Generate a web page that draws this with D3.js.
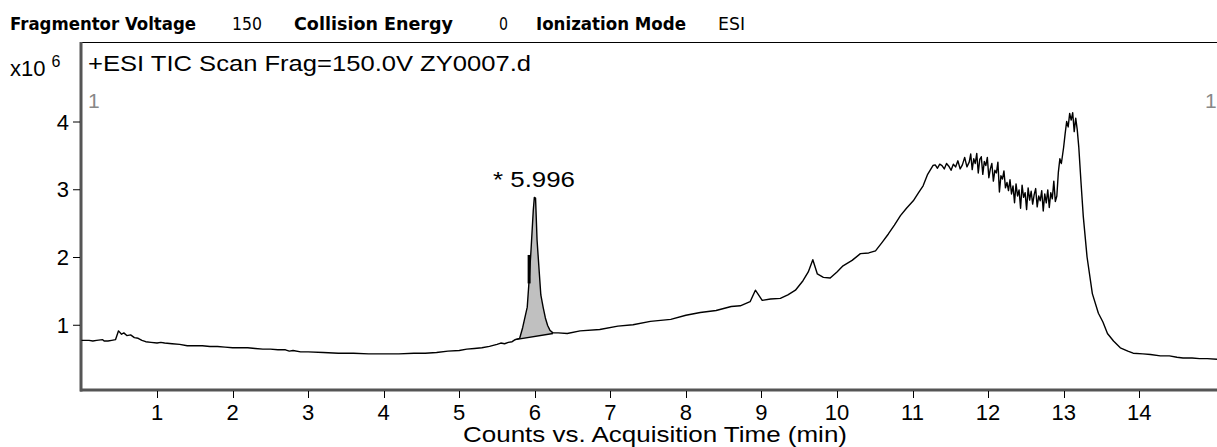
<!DOCTYPE html>
<html>
<head>
<meta charset="utf-8">
<script src="https://d3js.org/d3.v7.min.js"></script>
<style>
  body { margin: 0; background: #fff; }
  text { font-family: "Liberation Sans", Arial, sans-serif; }
  .hdr { font-family: "DejaVu Sans", Tahoma, sans-serif; font-size: 18px; }
</style>
</head>
<body>
<div id="chart"></div>
<script>
// TIC chromatogram, counts in units of 10^6
var width = 1217,
    height = 447;

// header info
var headerLabels = ["Fragmentor Voltage", "Collision Energy", "Ionization Mode"];
var headerValues = ["150", "0", "ESI"];

// acquisition time (min)
var times = [0.00, 0.10, 0.15, 0.20, 0.28, 0.30, 0.35, 0.40, 0.45, 0.49, 0.53, 0.56, 0.60, 0.65, 0.70, 0.75, 0.80, 0.85,
  0.92, 1.00, 1.05, 1.10, 1.20, 1.30, 1.40, 1.50, 1.60, 1.70, 1.80, 1.90, 2.00, 2.10, 2.20, 2.30, 2.40, 2.50, 2.60,
  2.70, 2.75, 2.80, 2.90, 3.00, 3.20, 3.40, 3.60, 3.80, 4.00, 4.20, 4.40, 4.55, 4.70, 4.85, 5.00, 5.10, 5.20, 5.30,
  5.40, 5.50, 5.55, 5.60, 5.65, 5.70, 5.74, 5.80,
  5.84, 5.90, 5.92, 5.95, 5.98, 5.994, 6.01, 6.03, 6.06, 6.08, 6.11, 6.14, 6.17, 6.20, 6.24,
  6.31, 6.43, 6.60, 6.86, 7.10, 7.30, 7.53, 7.80, 8.00, 8.19, 8.40, 8.60, 8.72, 8.85, 8.92, 9.01, 9.12, 9.25, 9.35,
  9.45, 9.55, 9.62, 9.68, 9.74, 9.82, 9.91, 10.00, 10.08, 10.20, 10.31, 10.42, 10.51, 10.60, 10.68, 10.76, 10.84,
  10.92, 11.01, 11.08, 11.14, 11.20, 11.27,
  11.30, 11.33, 11.36, 11.39, 11.42, 11.45, 11.48, 11.51, 11.54, 11.57, 11.60, 11.63, 11.66, 11.69, 11.72, 11.75,
  11.77, 11.79, 11.81, 11.83, 11.85, 11.87, 11.89, 11.91, 11.93, 11.95, 11.97, 11.99, 12.01, 12.03, 12.05, 12.07,
  12.09, 12.11, 12.13, 12.15, 12.17, 12.19, 12.21, 12.23, 12.25, 12.27, 12.29, 12.31, 12.33, 12.35, 12.37, 12.39,
  12.41, 12.43, 12.45, 12.47, 12.49, 12.51, 12.53, 12.55, 12.57, 12.59, 12.61, 12.63, 12.65, 12.67, 12.69, 12.71,
  12.73, 12.75, 12.77, 12.79, 12.81, 12.83, 12.85, 12.87, 12.89, 12.91, 12.93, 12.95, 12.97, 13.00, 13.02, 13.04,
  13.06, 13.08, 13.10, 13.12, 13.14, 13.16, 13.18, 13.20, 13.23, 13.26, 13.31, 13.38, 13.46, 13.52, 13.58, 13.66,
  13.75, 13.85, 13.92, 14.05, 14.15, 14.28, 14.40, 14.50, 14.58, 14.70, 14.80, 14.90, 15.03];

// counts (x10^6)
var counts = [0.77, 0.77, 0.76, 0.77, 0.78, 0.76, 0.76, 0.77, 0.78, 0.91, 0.86, 0.88, 0.84, 0.85, 0.81, 0.80, 0.77, 0.75,
  0.74, 0.73, 0.74, 0.73, 0.72, 0.71, 0.69, 0.69, 0.69, 0.68, 0.68, 0.67, 0.66, 0.66, 0.66, 0.65, 0.64, 0.64, 0.63,
  0.63, 0.61, 0.62, 0.60, 0.60, 0.59, 0.58, 0.58, 0.57, 0.57, 0.57, 0.58, 0.58, 0.59, 0.61, 0.62, 0.64, 0.65, 0.66,
  0.68, 0.71, 0.73, 0.72, 0.74, 0.75, 0.78, 0.80,
  0.96, 1.26, 1.58, 2.10, 2.69, 2.88, 2.87, 2.25, 1.76, 1.44, 1.26, 1.10, 0.99, 0.92, 0.88,
  0.88, 0.87, 0.91, 0.93, 0.98, 1.00, 1.05, 1.08, 1.14, 1.18, 1.21, 1.27, 1.28, 1.34, 1.51, 1.36, 1.38, 1.39, 1.44,
  1.51, 1.65, 1.78, 1.96, 1.75, 1.70, 1.69, 1.78, 1.87, 1.95, 2.05, 2.06, 2.09, 2.22, 2.34, 2.47, 2.61,
  2.72, 2.83, 2.95, 3.05, 3.22, 3.35,
  3.36, 3.31, 3.37, 3.35, 3.30, 3.38, 3.34, 3.28, 3.37, 3.33, 3.42, 3.30, 3.36, 3.47, 3.33, 3.40,
  3.52, 3.29, 3.45, 3.38, 3.53, 3.24, 3.44, 3.48, 3.22, 3.41, 3.35, 3.47, 3.17, 3.30, 3.38, 3.12,
  3.28, 3.24, 3.40, 2.96, 3.20, 3.15, 3.27, 3.02, 3.10, 2.98, 3.14, 2.93, 3.05, 2.80, 3.08, 2.90,
  2.99, 2.72, 3.06, 2.88, 2.95, 2.70, 3.02, 2.84, 2.97, 2.78, 2.92, 3.01, 2.74, 2.90, 2.83, 2.98,
  2.68, 2.93, 2.80, 2.99, 2.73, 2.95, 2.86, 3.12, 2.82, 2.90, 3.25, 3.45, 3.38, 3.62, 3.82, 4.00,
  3.92, 4.12, 4.02, 4.13, 3.85, 4.05, 3.88, 3.63, 3.10, 2.60, 2.00, 1.46, 1.17, 1.04, 0.87, 0.76,
  0.66, 0.61, 0.58, 0.57, 0.56, 0.54, 0.54, 0.52, 0.51, 0.51, 0.50, 0.50, 0.49];

// integrated peak
var peakLabel = "* 5.996";
var peakStart = [5.74, 0.78],
    peakEnd = [6.24, 0.87];
var peakMarker = [5.925, 1.61, 2.03];

var xTicks = [1, 2, 3, 4, 5, 6, 7, 8, 9, 10, 11, 12, 13, 14];
var yTicks = [1, 2, 3, 4];

var svg = d3.select("#chart").append("svg")
    .attr("width", width)
    .attr("height", height);

// scales
var x = d3.scaleLinear().domain([0, 15.03]).range([81.5, 1217]);
var y = d3.scaleLinear().domain([0, 4]).range([392.5, 121.5]);

// header line
var hx = [[10, 186, 232, 30], [294, 159, 499, 9], [536, 150, 718, 27]];
headerLabels.forEach(function(d, i) {
  svg.append("text").attr("class", "hdr")
      .attr("x", hx[i][0]).attr("y", 30)
      .attr("font-weight", "bold")
      .attr("textLength", hx[i][1]).attr("lengthAdjust", "spacingAndGlyphs")
      .text(d);
  svg.append("text").attr("class", "hdr")
      .attr("x", hx[i][2]).attr("y", 30)
      .attr("textLength", hx[i][3]).attr("lengthAdjust", "spacingAndGlyphs")
      .text(headerValues[i]);
});

// frame
svg.append("line")
    .attr("x1", 81).attr("x2", width)
    .attr("y1", 42.5).attr("y2", 42.5)
    .attr("stroke", "#000");
svg.append("line")
    .attr("x1", 81).attr("x2", 81)
    .attr("y1", 42).attr("y2", 391.5)
    .attr("stroke", "#555").attr("stroke-width", 3);
svg.append("line")
    .attr("x1", 80).attr("x2", width)
    .attr("y1", 390).attr("y2", 390)
    .attr("stroke", "#555").attr("stroke-width", 3);

// y axis ticks + labels
yTicks.forEach(function(t) {
  svg.append("line")
      .attr("x1", 73).attr("x2", 80)
      .attr("y1", y(t) + 0.5).attr("y2", y(t) + 0.5)
      .attr("stroke", "#000");
  svg.append("text")
      .attr("x", 69).attr("y", y(t) + 8)
      .attr("text-anchor", "end")
      .attr("font-size", 22)
      .text(t);
});

// x axis ticks + labels
xTicks.forEach(function(t) {
  svg.append("line")
      .attr("x1", Math.round(x(t)) + 0.5).attr("x2", Math.round(x(t)) + 0.5)
      .attr("y1", 391).attr("y2", 398)
      .attr("stroke", "#000");
  svg.append("text")
      .attr("x", x(t)).attr("y", 420)
      .attr("text-anchor", "middle")
      .attr("font-size", 22)
      .text(t);
});

svg.append("text")
    .attr("x", 463).attr("y", 442)
    .attr("font-size", 22)
    .attr("textLength", 384).attr("lengthAdjust", "spacingAndGlyphs")
    .text("Counts vs. Acquisition Time (min)");

// y scale label
var ylab = svg.append("text").attr("x", 10).attr("y", 76).attr("font-size", 22);
ylab.append("tspan").text("x10 ");
ylab.append("tspan").attr("dy", -9).attr("font-size", 16).text("6");

svg.append("text")
    .attr("x", 88).attr("y", 71)
    .attr("font-size", 22)
    .attr("textLength", 443).attr("lengthAdjust", "spacingAndGlyphs")
    .text("+ESI TIC Scan Frag=150.0V ZY0007.d");

svg.append("text")
    .attr("x", 88).attr("y", 108)
    .attr("font-size", 21).attr("fill", "#888")
    .text("1");
svg.append("text")
    .attr("x", 1205).attr("y", 108)
    .attr("font-size", 21).attr("fill", "#888")
    .text("1");

// shaded peak area
var pts = times.map(function(t, i) { return [t, counts[i]]; });
var peakPts = pts.filter(function(d) { return d[0] >= 5.80 && d[0] <= peakEnd[0]; });
var slope = (peakEnd[1] - peakStart[1]) / (peakEnd[0] - peakStart[0]);
var area = d3.area()
    .x(function(d) { return x(d[0]); })
    .y0(function(d) { return y(peakStart[1] + slope * (d[0] - peakStart[0])); })
    .y1(function(d) { return y(d[1]); });
svg.append("path")
    .datum(peakPts)
    .attr("d", area)
    .attr("fill", "#c0c0c0");

// trace
var line = d3.line()
    .x(function(d) { return x(d[0]); })
    .y(function(d) { return y(d[1]); });
svg.append("path")
    .datum(pts)
    .attr("d", line)
    .attr("fill", "none")
    .attr("stroke", "#000")
    .attr("stroke-width", 1.4)
    .attr("stroke-linejoin", "round");

// peak baseline and marker
svg.append("line")
    .attr("x1", x(peakStart[0])).attr("y1", y(peakStart[1]))
    .attr("x2", x(peakEnd[0])).attr("y2", y(peakEnd[1]))
    .attr("stroke", "#000").attr("stroke-width", 1.4);
svg.append("line")
    .attr("x1", x(peakMarker[0])).attr("x2", x(peakMarker[0]))
    .attr("y1", y(peakMarker[1])).attr("y2", y(peakMarker[2]))
    .attr("stroke", "#000").attr("stroke-width", 3);

svg.append("text")
    .attr("x", 493).attr("y", 187)
    .attr("font-size", 22)
    .attr("textLength", 82).attr("lengthAdjust", "spacingAndGlyphs")
    .text(peakLabel);
</script>
</body>
</html>
